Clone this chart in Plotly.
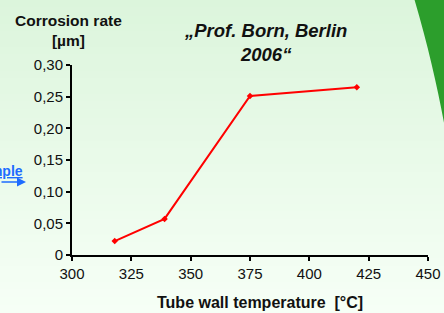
import plotly.graph_objects as go

# Data
temperature = [318, 339, 375, 420]
corrosion_rate = [0.022, 0.057, 0.251, 0.265]
x_ticks = [300, 325, 350, 375, 400, 425, 450]
y_ticks = [0, 0.05, 0.10, 0.15, 0.20, 0.25, 0.30]
y_tick_labels = ["0", "0,05", "0,10", "0,15", "0,20", "0,25", "0,30"]

W, H = 444, 313
ML, MR, MT, MB = 72, 16, 65, 58
PW, PH = W - ML - MR, H - MT - MB

def px(xp):
    return (xp - ML) / PW

def py(yp):
    return (H - MB - yp) / PH

FONT = "Liberation Sans, Arial, sans-serif"

fig = go.Figure()
fig.add_trace(go.Scatter(
    x=temperature, y=corrosion_rate, mode="lines+markers",
    line=dict(color="#ff0000", width=2),
    marker=dict(symbol="diamond", size=5, color="#ff0000"),
    cliponaxis=False, showlegend=False,
))

shapes = []
# background gradient
n = 40
top = (220, 245, 220)
bot = (246, 255, 246)
for i in range(n):
    t = i / (n - 1)
    c = tuple(round(top[k] + (bot[k] - top[k]) * t) for k in range(3))
    y0 = i * H / n
    y1 = (i + 1) * H / n + 1
    shapes.append(dict(type="rect", xref="paper", yref="paper",
                       x0=px(-5), x1=px(W + 5), y0=py(y1), y1=py(y0),
                       fillcolor="rgb(%d,%d,%d)" % c, line=dict(width=0), layer="below"))
# green swoosh
path = "M %f %f C %f %f, %f %f, %f %f L %f %f L %f %f Z" % (
    px(414), py(-2), px(428), py(45), px(438), py(90), px(445), py(128),
    px(460), py(128), px(460), py(-2))
shapes.append(dict(type="path", xref="paper", yref="paper", path=path,
                   fillcolor="#2c9e2c", line=dict(width=0), layer="below"))

annotations = [
    dict(text="<b>Corrosion rate<br>[µm]</b>", x=px(68), y=py(30), xref="paper", yref="paper",
         showarrow=False, xanchor="center", yanchor="middle", align="center",
         font=dict(family=FONT, size=15.5, color="#111111")),
    dict(text="<b><i>„Prof. Born, Berlin<br>2006“</i></b>", x=px(265), y=py(42), xref="paper", yref="paper",
         showarrow=False, xanchor="center", yanchor="middle", align="center",
         font=dict(family=FONT, size=18.5, color="#111111")),
    dict(text="<b>Tube wall temperature  [°C]</b>", x=px(260), y=py(302), xref="paper", yref="paper",
         showarrow=False, xanchor="center", yanchor="middle",
         font=dict(family=FONT, size=16, color="#111111")),
    dict(text="<b><u>Example</u></b>", x=px(25), y=py(171), xref="paper", yref="paper",
         showarrow=False, xanchor="right", yanchor="middle",
         font=dict(family=FONT, size=14, color="#1e6cff")),
    dict(text="", x=px(26), y=py(182), xref="paper", yref="paper",
         ax=-36, ay=0, axref="pixel", ayref="pixel",
         showarrow=True, arrowhead=2, arrowsize=1.2, arrowwidth=1.5, arrowcolor="#1e6cff"),
]

fig.update_layout(
    width=W, height=H,
    margin=dict(l=ML, r=MR, t=MT, b=MB, autoexpand=False),
    paper_bgcolor="#eaf9ea", plot_bgcolor="rgba(0,0,0,0)",
    shapes=shapes, annotations=annotations,
    font=dict(family=FONT, size=15, color="#111111"),
    xaxis=dict(range=[300, 450], tickvals=x_ticks, showgrid=False, zeroline=False,
               showline=True, linecolor="black", linewidth=2, automargin=False,
               ticks="outside", ticklen=4, tickwidth=2, tickcolor="black",
               tickfont=dict(size=15)),
    yaxis=dict(range=[0, 0.30], tickvals=y_ticks, ticktext=y_tick_labels, showgrid=False,
               zeroline=False, showline=True, linecolor="black", linewidth=2, automargin=False,
               ticks="outside", ticklen=4, tickwidth=2, tickcolor="black",
               tickfont=dict(size=15)),
)

fig.write_html("out.html", config={"displayModeBar": False},
               post_script="document.body.style.margin='0';document.body.style.overflow='hidden';")
